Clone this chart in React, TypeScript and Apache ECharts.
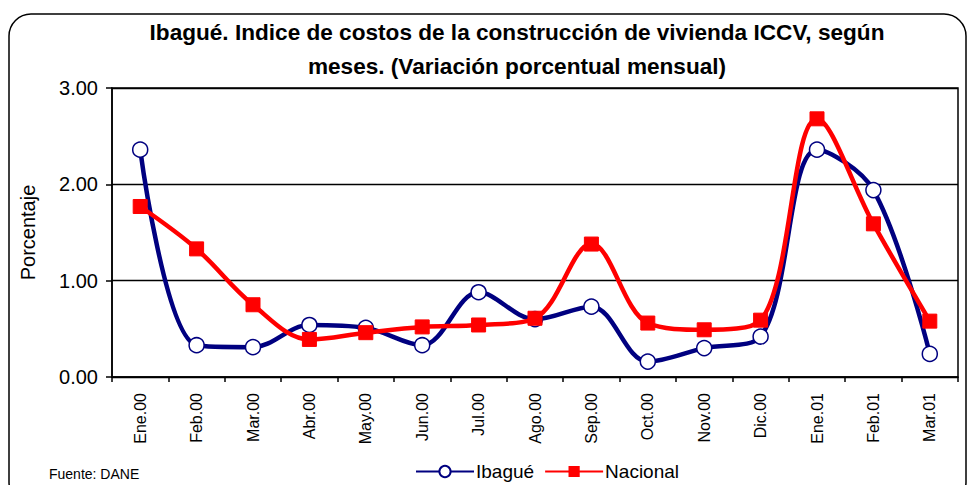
import React, { useEffect, useRef } from "react";
import * as echarts from "echarts";

const categories = ["Ene.00", "Feb.00", "Mar.00", "Abr.00", "May.00", "Jun.00", "Jul.00", "Ago.00", "Sep.00", "Oct.00", "Nov.00", "Dic.00", "Ene.01", "Feb.01", "Mar.01"];
const ibague = [2.36, 0.33, 0.31, 0.54, 0.51, 0.33, 0.88, 0.60, 0.73, 0.16, 0.30, 0.42, 2.36, 1.94, 0.24];
const nacional = [1.77, 1.33, 0.75, 0.39, 0.46, 0.52, 0.54, 0.61, 1.38, 0.56, 0.49, 0.59, 2.68, 1.59, 0.58];

export default function App() {
  const ref = useRef<HTMLDivElement>(null);
  useEffect(() => {
    if (!ref.current) return;
    const chart = echarts.init(ref.current, null, { renderer: "svg" });
    const font = "'Liberation Sans', Arial, sans-serif";
    chart.setOption({
      animation: false,
      backgroundColor: "#ffffff",
      textStyle: { fontFamily: font },
      title: {
        text: "Ibagué. Indice de costos de la construcción de vivienda ICCV, según\nmeses. (Variación porcentual mensual)",
        left: 512,
        top: 10,
        textAlign: "center",
        textStyle: { fontSize: 22.6, fontWeight: "bold", color: "#000", lineHeight: 34, fontFamily: font },
      },
      graphic: [
        {
          type: "rect",
          shape: { x: 9, y: 14, width: 957, height: 490, r: 22 },
          style: { fill: "none", stroke: "#000", lineWidth: 1.5 },
          silent: true,
          z: 0,
        },
        {
          type: "text",
          left: 49,
          top: 467,
          style: { text: "Fuente: DANE", fontSize: 14, fill: "#000", fontFamily: font },
        },
      ],
      legend: {
        left: 410,
        top: 457,
        itemWidth: 58,
        itemHeight: 14,
        itemGap: 10,
        textStyle: { fontSize: 19, color: "#000", fontFamily: font, padding: [0, 0, 0, -3] },
        data: ["Ibagué", "Nacional"],
      },
      grid: { left: 112, right: 15, top: 88, bottom: 108, show: true, borderColor: "#000", borderWidth: 1.5 },
      xAxis: {
        type: "category",
        data: categories,
        boundaryGap: true,
        axisLine: { lineStyle: { color: "#000", width: 1.5 } },
        axisTick: { show: true, inside: false, length: 5, lineStyle: { color: "#000", width: 1.5 } },
        axisLabel: { rotate: 90, fontSize: 16, color: "#000", margin: 16, fontFamily: font },
      },
      yAxis: {
        type: "value",
        min: 0,
        max: 3,
        interval: 1,
        name: "Porcentaje",
        nameLocation: "middle",
        nameGap: 74,
        nameTextStyle: { fontSize: 20, color: "#000", fontFamily: font },
        axisLine: { show: true, lineStyle: { color: "#000", width: 1.5 } },
        axisTick: { show: true, length: 6, lineStyle: { color: "#000", width: 1.5 } },
        axisLabel: { fontSize: 20, color: "#000", margin: 14, formatter: (v: number) => v.toFixed(2), fontFamily: font },
        splitLine: { lineStyle: { color: "#000", width: 1.3 } },
      },
      series: [
        {
          name: "Ibagué",
          type: "line",
          data: ibague,
          smooth: 0.35,
          symbol: "circle",
          symbolSize: 15,
          lineStyle: { color: "#000080", width: 4.5 },
          itemStyle: { color: "#ffffff", borderColor: "#000080", borderWidth: 1.5 },
          z: 2,
        },
        {
          name: "Nacional",
          type: "line",
          data: nacional,
          smooth: 0.35,
          symbol: "rect",
          symbolSize: 14,
          lineStyle: { color: "#ff0000", width: 4.5 },
          itemStyle: { color: "#ff0000", borderColor: "#ff0000" },
          z: 3,
        },
      ],
    });
    return () => chart.dispose();
  }, []);
  return <div ref={ref} style={{ width: 973, height: 485, position: "absolute", left: 0, top: 0 }} />;
}
